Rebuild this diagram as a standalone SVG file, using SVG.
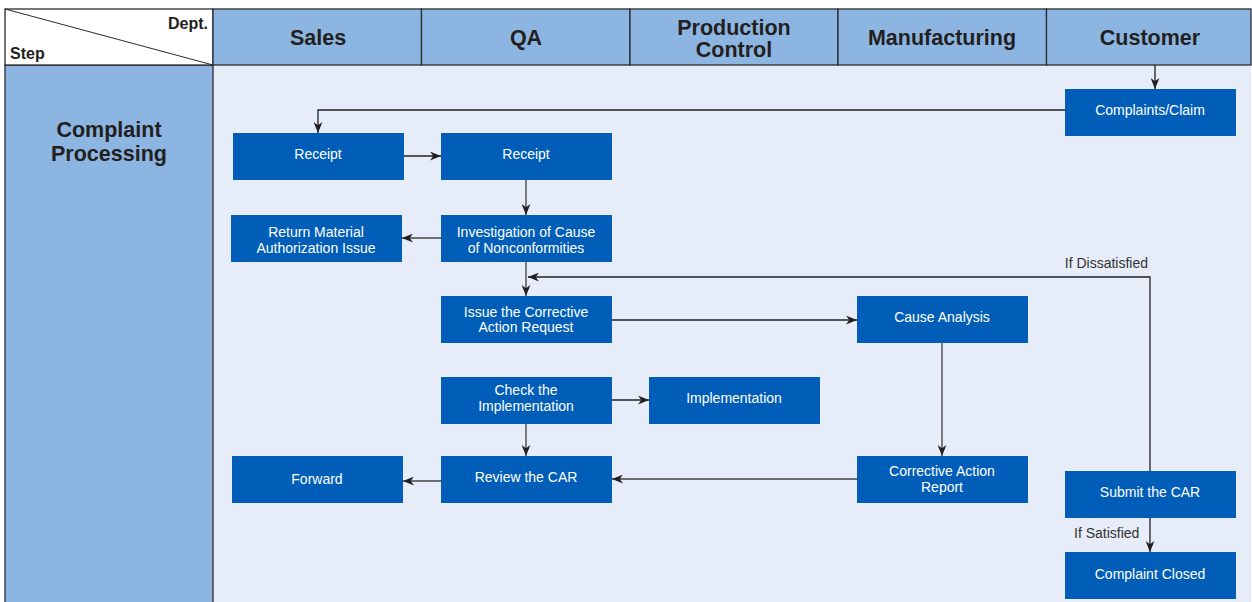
<svg xmlns="http://www.w3.org/2000/svg" width="1252" height="602" viewBox="0 0 1252 602">
<defs>
<style>
.hdr{fill:#8db5e1;stroke:#2b2b2b;stroke-width:1.3}
.ht{font-family:"Liberation Sans",Arial,sans-serif;font-weight:bold;font-size:21.5px;fill:#231f20;text-anchor:middle}
.st{font-family:"Liberation Sans",Arial,sans-serif;font-weight:bold;font-size:16px;fill:#231f20}
.node rect{fill:#005eb8}
.node text{font-family:"Liberation Sans",Arial,sans-serif;font-size:14px;fill:#ffffff;text-anchor:middle}
.c{fill:none;stroke:#231f20;stroke-width:1.3;marker-end:url(#ah)}
.g{stroke:#6d6e71;stroke-width:1.8}
.lbl{font-family:"Liberation Sans",Arial,sans-serif;font-size:14px;fill:#333333}
</style>
<marker id="ah" viewBox="0 0 10 8" refX="10" refY="4" markerWidth="11" markerHeight="9" markerUnits="userSpaceOnUse" orient="auto">
<path d="M0,0 L10,4 L0,8 L3,4 z" fill="#231f20"/>
</marker>
</defs>
<rect x="0" y="0" width="1252" height="602" fill="#ffffff"/>
<rect x="213" y="65" width="1038" height="540" fill="#e6edf8"/>
<rect x="5" y="65" width="208" height="540" fill="#8db5e1" stroke="#2b2b2b" stroke-width="1.3"/>
<g id="header">
<rect x="5" y="9" width="208" height="56" fill="#ffffff" stroke="#2b2b2b" stroke-width="1.3"/>
<line x1="5" y1="9" x2="213" y2="65" stroke="#2b2b2b" stroke-width="1"/>
<text class="st" x="208" y="29" text-anchor="end">Dept.</text>
<text class="st" x="10" y="59">Step</text>
<rect class="hdr" x="213" y="9" width="208.5" height="56"/>
<rect class="hdr" x="421.5" y="9" width="208.5" height="56"/>
<rect class="hdr" x="630" y="9" width="208" height="56"/>
<rect class="hdr" x="838" y="9" width="208.5" height="56"/>
<rect class="hdr" x="1046.5" y="9" width="204.5" height="56"/>
<text class="ht" x="318" y="45">Sales</text>
<text class="ht" x="526" y="45">QA</text>
<text class="ht" x="734" y="35">Production</text>
<text class="ht" x="734" y="57">Control</text>
<text class="ht" x="942" y="45">Manufacturing</text>
<text class="ht" x="1150" y="45">Customer</text>
</g>
<g id="step">
<text class="ht" x="109" y="137" font-size="20.5">Complaint</text>
<text class="ht" x="109" y="161" font-size="20.5">Processing</text>
</g>
<g id="connectors">
<path class="c" d="M1155,65 V89"/>
<path class="c" d="M1065,110 H318 V133"/>
<path class="c" d="M404,156 H441"/>
<path class="c g" d="M526,180 V215"/>
<path class="c g" d="M441,238 H402"/>
<path class="c g" d="M526,262 V296"/>
<path class="c" d="M612,320 H857"/>
<path class="c g" d="M942,343 V456"/>
<path class="c g" d="M857,479 H612"/>
<path class="c" d="M612,400 H649"/>
<path class="c g" d="M526,424 V456"/>
<path class="c g" d="M441,481 H403"/>
<path class="c" d="M1150,471 V277 H528"/>
<path class="c" d="M1150,518 V552"/>
<text class="lbl" x="1148" y="268" text-anchor="end">If Dissatisfied</text>
<text class="lbl" x="1074" y="538">If Satisfied</text>
</g>
<g id="n-complaints" class="node"><rect x="1065" y="89" width="171" height="47"/><text x="1150" y="115">Complaints/Claim</text></g>
<g id="n-receipt-sales" class="node"><rect x="233" y="133" width="171" height="47"/><text x="318" y="159">Receipt</text></g>
<g id="n-receipt-qa" class="node"><rect x="441" y="133" width="171" height="47"/><text x="526" y="159">Receipt</text></g>
<g id="n-rma" class="node"><rect x="231" y="215" width="171" height="47"/><text x="316" y="237">Return Material</text><text x="316" y="253">Authorization Issue</text></g>
<g id="n-investigation" class="node"><rect x="441" y="215" width="171" height="47"/><text x="526" y="237">Investigation of Cause</text><text x="526" y="253">of Nonconformities</text></g>
<g id="n-issue-car" class="node"><rect x="441" y="296" width="171" height="47"/><text x="526" y="317">Issue the Corrective</text><text x="526" y="332">Action Request</text></g>
<g id="n-cause" class="node"><rect x="857" y="296" width="171" height="47"/><text x="942" y="322">Cause Analysis</text></g>
<g id="n-check" class="node"><rect x="441" y="377" width="171" height="47"/><text x="526" y="395">Check the</text><text x="526" y="411">Implementation</text></g>
<g id="n-impl" class="node"><rect x="649" y="377" width="171" height="47"/><text x="734" y="403">Implementation</text></g>
<g id="n-forward" class="node"><rect x="232" y="456" width="171" height="47"/><text x="317" y="484">Forward</text></g>
<g id="n-review" class="node"><rect x="441" y="456" width="171" height="47"/><text x="526" y="482">Review the CAR</text></g>
<g id="n-car-report" class="node"><rect x="857" y="456" width="171" height="47"/><text x="942" y="476">Corrective Action</text><text x="942" y="492">Report</text></g>
<g id="n-submit" class="node"><rect x="1065" y="471" width="171" height="47"/><text x="1150" y="497">Submit the CAR</text></g>
<g id="n-closed" class="node"><rect x="1065" y="552" width="171" height="47"/><text x="1150" y="579">Complaint Closed</text></g>
</svg>
